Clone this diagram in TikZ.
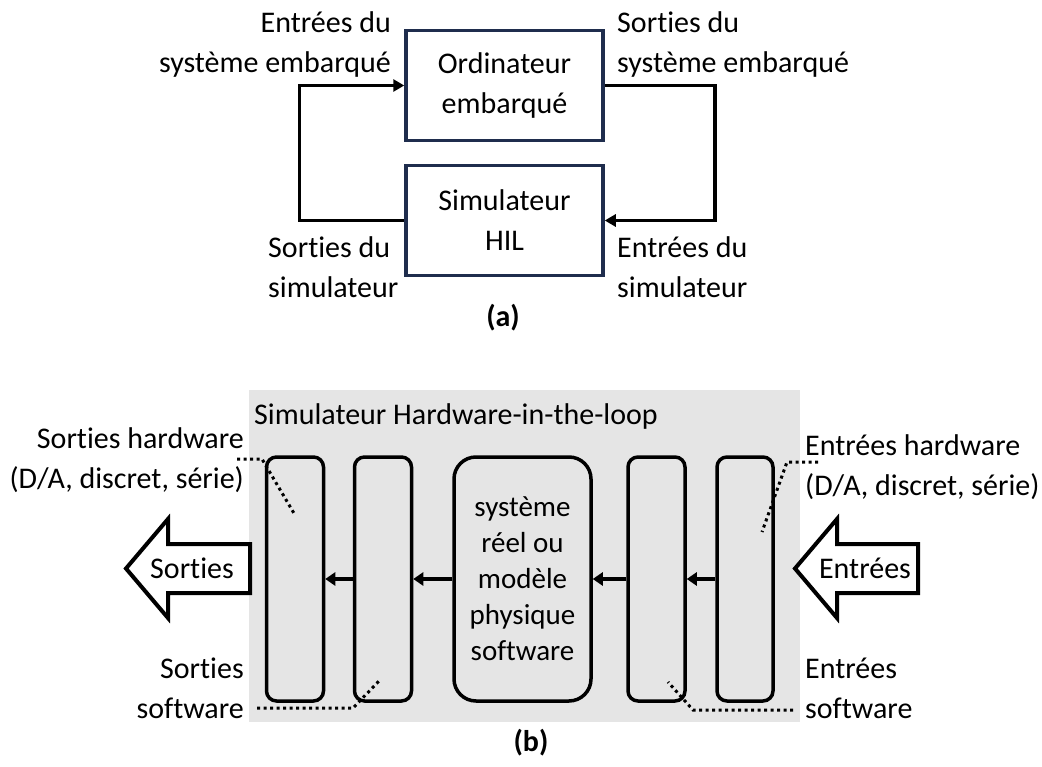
\documentclass[tikz,border=0pt]{standalone}
\usepackage{fontspec}
\setmainfont{Carlito}[Ligatures=NoCommon]
\usetikzlibrary{arrows.meta}
\definecolor{navyline}{HTML}{1F2D4D}
\definecolor{hilgray}{HTML}{E5E5E5}
\begin{document}
\begin{tikzpicture}[x=1pt,y=-1pt,
  txt/.style={inner sep=0pt, font=\fontsize{30}{40}\selectfont},
  blockA/.style={draw=navyline, line width=3.5pt, minimum width=197pt, minimum height=110pt,
                 align=center, inner sep=0pt, font=\fontsize{30}{40}\selectfont},
  loopline/.style={line width=3.5pt, -{Triangle[length=11pt,width=12pt]}},
  stage/.style={draw, line width=3.5pt, rounded corners=10pt, minimum width=57pt,
                minimum height=244pt, inner sep=0pt},
  flow/.style={line width=3.3pt, -{Triangle[length=10pt,width=13pt]}},
  leader/.style={line width=3pt, dash pattern=on 3pt off 3.5pt},
  bigarrow/.style={draw, fill=white, line width=4pt, line join=miter}
]
\useasboundingbox (0,0) rectangle (1042,767);

% ---------- (a) closed loop ----------
\node[blockA] (obc) at (504.5,85.5) {Ordinateur\\embarqué};
\node[blockA] (hil) at (504.5,220.5) {Simulateur\\HIL};

\draw[loopline] (hil.west) -- ++(-105,0) |- (obc.west);
\draw[loopline] (obc.east) -- ++(110,0) |- (hil.east);

\node[txt, anchor=east, align=right] (inobc) at (391,45) {Entrées du\\système embarqué};
\node[txt, anchor=west, align=left] (outobc) at (617,45) {Sorties du\\système embarqué};
\node[txt, anchor=west, align=left] (outsim) at (268,267) {Sorties du\\simulateur};
\node[txt, anchor=west, align=left] (insim) at (617,267) {Entrées du\\simulateur};
\node[txt, font=\fontsize{30}{40}\selectfont\bfseries] (capa) at (503,318) {(a)};

% ---------- (b) HIL simulator structure ----------
\fill[hilgray] (249,390) rectangle (800,722);
\node[txt, anchor=west] (title) at (254,417) {Simulateur Hardware-in-the-loop};

\node[stage] (s1) at (295,579) {};
\node[stage] (s2) at (383,579) {};
\node[stage, minimum width=137pt, rounded corners=22pt, align=center,
      font=\fontsize{29}{36}\selectfont] (core) at (522.5,579)
      {système\\réel ou\\modèle\\physique\\software};
\node[stage] (s4) at (656.5,579) {};
\node[stage, minimum width=56pt] (s5) at (745,579) {};

\draw[flow] (s2.west) -- (s1.east);
\draw[flow] (core.west) -- (s2.east);
\draw[flow] (s4.west) -- (core.east);
\draw[flow] (s5.west) -- (s4.east);

% output block arrow
\draw[bigarrow] (250,544) -- (168,544) -- (168,519) -- (126,568.5) -- (168,618) -- (168,593) -- (250,593) -- cycle;
\node[txt] (outarrow) at (192,568) {Sorties};
% input block arrow
\draw[bigarrow] (918,544) -- (837,544) -- (837,519) -- (795,568.5) -- (837,618) -- (837,593) -- (918,593) -- cycle;
\node[txt] (inarrow) at (865,568) {Entrées};

% side labels
\node[txt, anchor=east, align=right] (hwout) at (244,460) {Sorties hardware\\(D/A, discret, série)};
\node[txt, anchor=east, align=right] (swout) at (244,688) {Sorties\\software};
\node[txt, anchor=west, align=left] (hwin) at (805,467) {Entrées hardware\\(D/A, discret, série)};
\node[txt, anchor=west, align=left] (swin) at (805,688) {Entrées\\software};

% dotted leaders
\coordinate (hwoutA) at (237,459);
\coordinate (hwoutB) at (262,459);
\coordinate (hwoutC) at (295,515);
\draw[leader] (hwoutA) -- (hwoutB) -- (hwoutC);
\coordinate (swoutA) at (257,708);
\coordinate (swoutB) at (353,708);
\coordinate (swoutC) at (380,680);
\draw[leader] (swoutA) -- (swoutB) -- (swoutC);
\coordinate (hwinA) at (818,462);
\coordinate (hwinB) at (787,462);
\coordinate (hwinC) at (762,532);
\draw[leader] (hwinA) -- (hwinB) -- (hwinC);
\coordinate (swinA) at (793,710);
\coordinate (swinB) at (693,710);
\coordinate (swinC) at (668,682);
\draw[leader] (swinA) -- (swinB) -- (swinC);

\node[txt, font=\fontsize{30}{40}\selectfont\bfseries] (capb) at (531,743) {(b)};
\end{tikzpicture}
\end{document}
